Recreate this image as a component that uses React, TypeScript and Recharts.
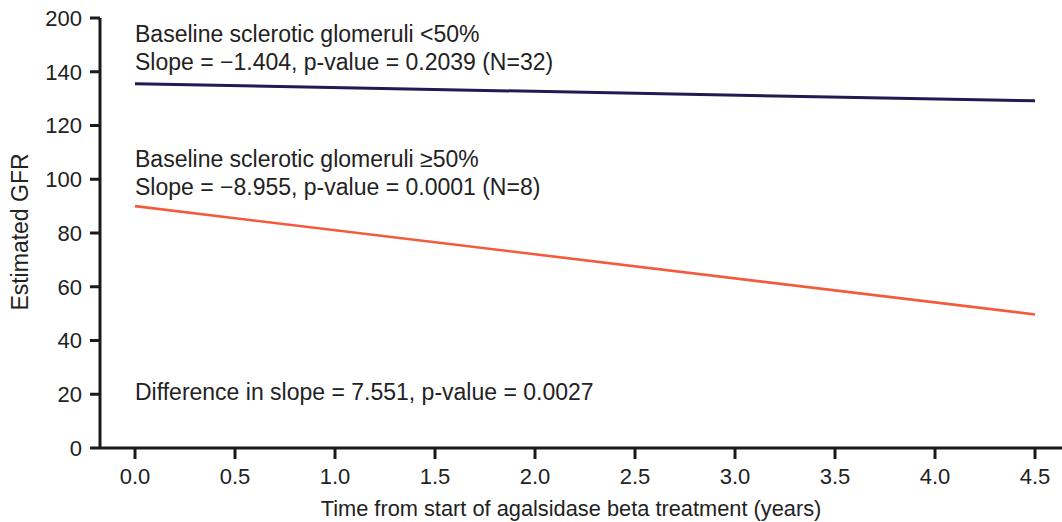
import React from 'react';
import { LineChart, Line, XAxis, YAxis, Customized, Label } from 'recharts';

// ---- data ----
const timeYears = [0, 4.5];
const gfrBelow50 = [135.5, 129.2]; // baseline sclerotic glomeruli <50%
const gfrAbove50 = [90.0, 49.7]; // baseline sclerotic glomeruli >=50%
const xTicks = [0, 0.5, 1, 1.5, 2, 2.5, 3, 3.5, 4, 4.5];
const yTicks = [0, 20, 40, 60, 80, 100, 120, 140, 160];
const yTickLabels = ['0', '20', '40', '60', '80', '100', '120', '140', '200'];
const annotationLines = [
  'Baseline sclerotic glomeruli <50%',
  'Slope = \u22121.404, p-value = 0.2039 (N=32)',
  'Baseline sclerotic glomeruli \u226550%',
  'Slope = \u22128.955, p-value = 0.0001 (N=8)',
  'Difference in slope = 7.551, p-value = 0.0027',
];

const data = timeYears.map((t, i) => ({ t, below: gfrBelow50[i], above: gfrAbove50[i] }));

const FONT = '"Liberation Sans", Arial, Helvetica, sans-serif';
const TEXT = '#222';
const AXIS = '#1a1a1a';

const annotationY = [41.5, 70, 166.7, 195, 400];

const Annotations = () => (
  <g>
    {annotationLines.map((s, i) => (
      <text key={i} x={135} y={annotationY[i]} fontSize={23} fontFamily={FONT} fill={TEXT}>
        {s}
      </text>
    ))}
  </g>
);

export default function App() {
  return (
    <div style={{ position: 'absolute', left: 0, top: 0, background: '#fff' }}>
      <LineChart
        width={1062}
        height={522}
        data={data}
        margin={{ top: 18, right: 0, bottom: 0, left: 0 }}
        style={{ fontFamily: FONT }}
      >
        <XAxis
          dataKey="t"
          type="number"
          domain={[-0.175, 4.635]}
          allowDataOverflow
          ticks={xTicks}
          tickFormatter={(v: number) => v.toFixed(1)}
          height={74}
          tickSize={11}
          tickMargin={9}
          axisLine={{ stroke: AXIS, strokeWidth: 3 }}
          tickLine={{ stroke: AXIS, strokeWidth: 3 }}
          tick={{ fill: TEXT, fontSize: 22, fontFamily: FONT }}
          interval={0}
        >
          <Label
            value="Time from start of agalsidase beta treatment (years)"
            position="insideBottom"
            offset={6}
            dx={-10}
            fill={TEXT}
            fontSize={21.8}
            fontFamily={FONT}
          />
        </XAxis>
        <YAxis
          type="number"
          domain={[0, 160]}
          ticks={yTicks}
          tickFormatter={(v: number) => yTickLabels[yTicks.indexOf(v)]}
          width={100}
          tickSize={10}
          tickMargin={8}
          axisLine={{ stroke: AXIS, strokeWidth: 3 }}
          tickLine={{ stroke: AXIS, strokeWidth: 3 }}
          tick={{ fill: TEXT, fontSize: 22, fontFamily: FONT }}
          interval={0}
        >
          <Label
            content={() => (
              <text
                x={28}
                y={232}
                transform="rotate(-90, 28, 232)"
                textAnchor="middle"
                fontSize={23}
                fontFamily={FONT}
                fill={TEXT}
              >
                Estimated GFR
              </text>
            )}
          />
        </YAxis>
        <Line
          dataKey="below"
          stroke="#221a52"
          strokeWidth={3}
          dot={false}
          activeDot={false}
          isAnimationActive={false}
        />
        <Line
          dataKey="above"
          stroke="#f25c3d"
          strokeWidth={2.6}
          dot={false}
          activeDot={false}
          isAnimationActive={false}
        />
        <Customized component={Annotations} />
      </LineChart>
    </div>
  );
}
